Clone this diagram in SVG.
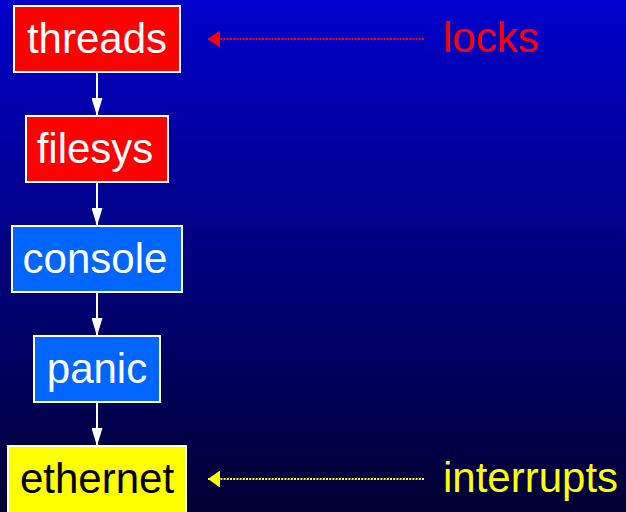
<svg xmlns="http://www.w3.org/2000/svg" width="626" height="512" viewBox="0 0 626 512">
<defs>
<linearGradient id="bg" x1="0" y1="0" x2="0" y2="1">
<stop offset="0" stop-color="#0000CC"/>
<stop offset="1" stop-color="#000033"/>
</linearGradient>
<marker id="wh" viewBox="0 0 18 11" refX="18" refY="5.5" markerWidth="18" markerHeight="11" markerUnits="userSpaceOnUse" orient="auto">
<path d="M0,0 L18,5.5 L0,11 Z" fill="#FFFFFF"/>
</marker>
<marker id="rd" viewBox="0 0 12 17" refX="12" refY="8.5" markerWidth="12" markerHeight="17" markerUnits="userSpaceOnUse" orient="auto">
<path d="M0,0 L12,8.5 L0,17 Z" fill="#FF0000"/>
</marker>
<marker id="yl" viewBox="0 0 12 17" refX="12" refY="8.5" markerWidth="12" markerHeight="17" markerUnits="userSpaceOnUse" orient="auto">
<path d="M0,0 L12,8.5 L0,17 Z" fill="#FFFF00"/>
</marker>
</defs>
<style>
text{font-family:"Liberation Sans",Arial,sans-serif;font-size:42px;}
.box{stroke:#FFFFFF;stroke-width:2;}
.red{fill:#FF0000;}
.blue{fill:#0066FF;}
.yel{fill:#FFFF00;}
.lbl{fill:#FFFFFF;text-anchor:middle;}
.flow{stroke:#FFFFFF;stroke-width:2;fill:none;marker-end:url(#wh);}
.dot{stroke-width:2;fill:none;stroke-dasharray:2 1.2;}
</style>
<rect width="626" height="512" fill="url(#bg)"/>
<g id="connectors">
<line class="flow" x1="97" y1="72" x2="97" y2="116"/>
<line class="flow" x1="97" y1="182" x2="97" y2="226"/>
<line class="flow" x1="97" y1="292" x2="97" y2="336"/>
<line class="flow" x1="97" y1="402" x2="97" y2="446"/>
<line class="dot" stroke="#FF0000" x1="424" y1="39" x2="208" y2="39" marker-end="url(#rd)"/>
<line class="dot" stroke="#FFFF00" x1="424" y1="479" x2="208" y2="479" marker-end="url(#yl)"/>
</g>
<g id="threads">
<rect class="box red" x="14" y="6" width="166" height="66"/>
<text class="lbl" x="97" y="53">threads</text>
</g>
<g id="filesys">
<rect class="box red" x="26" y="116" width="142" height="66"/>
<text class="lbl" x="95" y="163">filesys</text>
</g>
<g id="console">
<rect class="box blue" x="12" y="226" width="170" height="66"/>
<text class="lbl" x="95" y="273">console</text>
</g>
<g id="panic">
<rect class="box blue" x="34" y="336" width="126" height="66"/>
<text class="lbl" x="97" y="383">panic</text>
</g>
<g id="ethernet">
<rect class="box yel" x="8" y="446" width="178" height="70"/>
<text class="lbl" x="97" y="493" style="fill:#000000">ethernet</text>
</g>
<g id="locks">
<text x="443" y="52" fill="#FF0000">locks</text>
</g>
<g id="interrupts">
<text x="443" y="492" fill="#FFFF00">interrupts</text>
</g>
</svg>
